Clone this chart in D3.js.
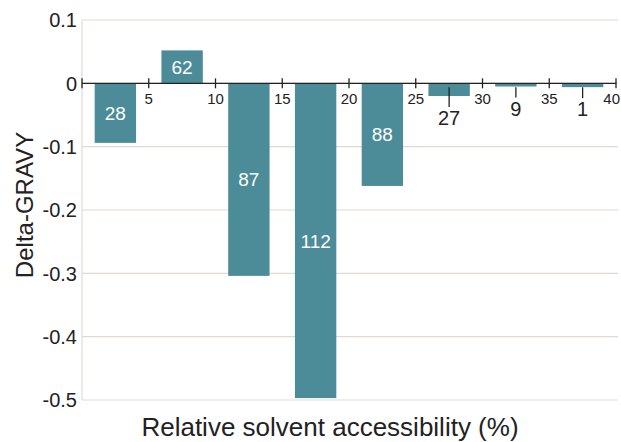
<!DOCTYPE html>
<html>
<head>
<meta charset="utf-8">
<script src="https://cdn.jsdelivr.net/npm/d3@7"></script>
<style>
  body { margin: 0; background: #fff; }
  text { font-family: Arial, "Liberation Sans", sans-serif; }
</style>
</head>
<body>
<svg id="chart" width="621" height="442"></svg>
<script>
const svg = d3.select("#chart"),
    width = +svg.attr("width"),
    height = +svg.attr("height");

// bins of relative solvent accessibility (%)
const bin_start = [0, 5, 10, 15, 20, 25, 30, 35];
const delta_gravy = [-0.094, 0.052, -0.304, -0.497, -0.162, -0.020, -0.005, -0.006];
const counts = ["28", "62", "87", "112", "88", "27", "9", "1"];
const x_ticks = [0, 5, 10, 15, 20, 25, 30, 35, 40];
const y_ticks = [0.1, 0, -0.1, -0.2, -0.3, -0.4, -0.5];
const y_tick_labels = ["0.1", "0", "-0.1", "-0.2", "-0.3", "-0.4", "-0.5"];

const margin = {top: 20, right: 5, bottom: 42, left: 82};

let x = d3.scaleLinear().domain([0, 40]).range([margin.left, width - margin.right]);
let y = d3.scaleLinear().domain([-0.5, 0.1]).range([height - margin.bottom, margin.top]);

const bin_w = 5, bar_w = 3.1; // bar width in x units

// gridlines
svg.append("g")
    .selectAll("line")
    .data(y_ticks)
    .enter()
    .append("line")
    .attr("x1", x(0))
    .attr("x2", x(40) + 2)
    .attr("y1", d => y(d))
    .attr("y2", d => y(d))
    .style("stroke", "#e2dad2")
    .style("stroke-width", 1.2);

// y axis line
svg.append("line")
    .attr("x1", x(0)).attr("x2", x(0))
    .attr("y1", y(0.1)).attr("y2", y(-0.5))
    .style("stroke", "#e2dad2")
    .style("stroke-width", 1.2);

// y tick labels
svg.append("g")
    .selectAll("text")
    .data(y_ticks)
    .enter()
    .append("text")
    .attr("x", x(0) - 5)
    .attr("y", d => y(d))
    .attr("dy", "0.36em")
    .attr("text-anchor", "end")
    .style("font-size", "20px")
    .style("fill", "#222")
    .text((d, i) => y_tick_labels[i]);

// bars
svg.append("g")
    .selectAll("rect")
    .data(delta_gravy)
    .enter()
    .append("rect")
    .attr("x", (d, i) => x(bin_start[i] + (bin_w - bar_w) / 2))
    .attr("width", x(bar_w) - x(0))
    .attr("y", d => y(Math.max(0, d)))
    .attr("height", d => Math.abs(y(d) - y(0)))
    .attr("fill", "#4c8c99");

// x axis
svg.append("line")
    .attr("x1", x(0)).attr("x2", x(40))
    .attr("y1", y(0)).attr("y2", y(0))
    .style("stroke", "#222")
    .style("stroke-width", 1.3);

svg.append("g")
    .selectAll("line")
    .data(x_ticks)
    .enter()
    .append("line")
    .attr("x1", d => x(d)).attr("x2", d => x(d))
    .attr("y1", y(0) - 5).attr("y2", y(0) + 5)
    .style("stroke", "#222")
    .style("stroke-width", 1.3);

svg.append("g")
    .selectAll("text")
    .data(x_ticks.filter(d => d > 0))
    .enter()
    .append("text")
    .attr("x", d => d === 40 ? width - 1 : x(d))
    .attr("y", y(0) + 21)
    .attr("text-anchor", d => d === 40 ? "end" : "middle")
    .style("font-size", "15px")
    .style("fill", "#222")
    .text(d => d);

// count labels: inside bigger bars, below small ones with a leader line
const small = d => Math.abs(y(d) - y(0)) < 25;

let labels = svg.append("g");
delta_gravy.forEach(function (d, i) {
    let cx = x(bin_start[i] + bin_w / 2);
    if (small(d)) {
        let ly = y(d) + 22;
        labels.append("line")
            .attr("x1", cx).attr("x2", cx)
            .attr("y1", y(0) + 4).attr("y2", ly - 11)
            .style("stroke", "#222")
            .style("stroke-width", 1.3);
        labels.append("text")
            .attr("x", cx)
            .attr("y", ly)
            .attr("dy", "0.36em")
            .attr("text-anchor", "middle")
            .style("font-size", "20px")
            .style("fill", "#222")
            .text(counts[i]);
    } else {
        labels.append("text")
            .attr("x", cx)
            .attr("y", (y(d) + y(0)) / 2)
            .attr("dy", "0.36em")
            .attr("text-anchor", "middle")
            .style("font-size", "19px")
            .style("fill", "#fff")
            .text(counts[i]);
    }
});

// axis titles
svg.append("text")
    .attr("transform", "translate(33," + 205 + ") rotate(-90)")
    .attr("text-anchor", "middle")
    .style("font-size", "24px")
    .style("fill", "#222")
    .text("Delta-GRAVY");

svg.append("text")
    .attr("x", 330)
    .attr("y", 436)
    .attr("text-anchor", "middle")
    .style("font-size", "26px")
    .style("fill", "#222")
    .text("Relative solvent accessibility (%)");
</script>
</body>
</html>
